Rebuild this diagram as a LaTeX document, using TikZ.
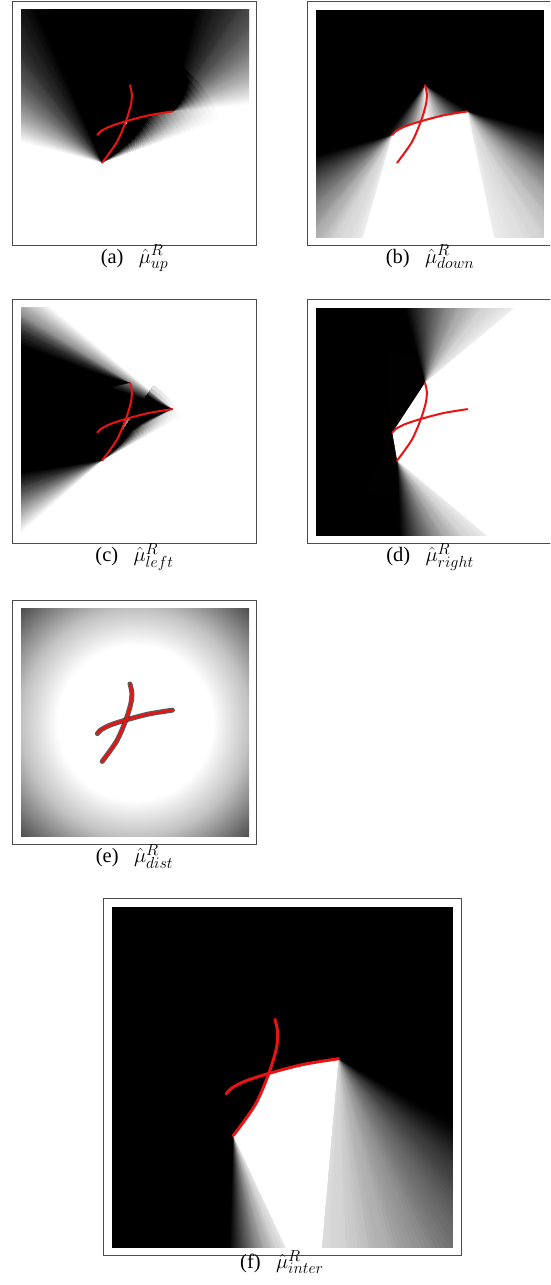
\RequirePackage{fix-cm}
\documentclass[tikz,border=0pt]{standalone}
\usepackage{fontspec}
\setmainfont{Liberation Serif}
\usetikzlibrary{calc}
\DeclareMathSizes{20.5}{20.5}{16}{12}

\definecolor{strokered}{RGB}{234,18,18}
\pgfdeclareradialshading{distfield}{\pgfpoint{0bp}{0bp}}{%
  color(0bp)=(white); color(17bp)=(white); color(25bp)=(black!24);
  color(35.4bp)=(black!70); color(50bp)=(black!70)}

% wedges round an apex: colour, apex, angle (full), angle (gone), opacity, radius
\newcommand{\fansteps}{60}
\newcommand{\fieldfan}[6]{%
  \pgfmathtruncatemacro{\fn}{\fansteps-1}%
  \foreach \k in {0,...,\fn}{%
    \pgfmathsetmacro{\fb}{#3+(#4-#3)*(\k+1)/\fansteps}%
    \pgfmathsetmacro{\fo}{1-(1-#5*(1-min(1,(\k+0.5)/\fansteps)^1.3))/(1-#5*(1-min(1,(\k+1.5)/\fansteps)^1.3))}%
    \fill[#1, opacity=\fo] (#2) -- +(#3:#6) arc[start angle=#3, end angle=\fb, radius=#6] -- cycle;
  }}
% the same in rings, so that it also fades with the distance
\newcommand{\softfan}[6]{%
  \begingroup\renewcommand{\fansteps}{30}%
  \pgfmathsetmacro{\sop}{1-(1-#5)^(1/24)}%
  \foreach \s in {1,...,24}{%
    \pgfmathsetmacro{\sr}{#6*\s/24}%
    \fieldfan{#1}{#2}{#3}{#4}{\sop}{\sr}}%
  \endgroup}

% end points of the two strokes, in the unit square of a panel
\newcommand{\strokeends}{%
  \coordinate (A) at (0.356,0.33);
  \coordinate (X) at (0.46,0.512);
  \coordinate (T) at (0.478,0.67);
  \coordinate (L) at (0.335,0.452);
  \coordinate (R) at (0.664,0.555);}
\newcommand{\drawstrokes}[1]{%
  \draw[#1] plot[smooth] coordinates {(A) (0.42,0.42) (X) (0.482,0.585) (0.486,0.632) (T)};
  \draw[#1] plot[smooth] coordinates {(L) (0.35,0.468) (0.39,0.489) (X) (0.56,0.538) (R)};}

\begin{document}
\begin{tikzpicture}[x=1pt, y=1pt,
    panelframe/.style={draw=black!70, line width=0.9pt},
    subcap/.style={font=\fontsize{20.5}{24}\selectfont, inner sep=0pt, anchor=base},
    redline/.style={strokered, line width=2pt, line cap=round, line join=round},
    darkline/.style={black!85, line width=5pt, line cap=round, line join=round, opacity=0.75}]
  \useasboundingbox (0,0) rectangle (550,1285);
  \clip (0,0) rectangle (550,1285);

  % (a) up
  \begin{scope}[shift={(21,1047)}, x=228pt, y=228pt]
    \clip (0,0) rectangle (1,1);
    \fill[white] (0,0) rectangle (1,1);
    \strokeends
    \fill[black] (A) -- ($(A)+(108:2)$) -- ($(R)+(85:2)$) -- (R) -- (0.56,0.538) -- (X) -- (0.42,0.42) -- cycle;
    \fieldfan{black}{A}{106}{166}{1}{2}
    \fieldfan{black}{R}{87}{5}{1}{2}
    \softfan{black}{A}{58}{20}{0.95}{0.55}
    \drawstrokes{redline}
  \end{scope}

  % (b) down
  \begin{scope}[shift={(316,1047)}, x=228pt, y=228pt]
    \clip (0,0) rectangle (1,1);
    \fill[black] (0,0) rectangle (1,1);
    \strokeends
    \fill[white] (L) -- ($(L)+(254:2)$) -- ($(R)+(282:2)$) -- (R) -- (0.56,0.538) -- (X) -- (0.39,0.489) -- (0.35,0.468) -- cycle;
    \fieldfan{white}{L}{256}{195}{1}{2}
    \fieldfan{white}{R}{280}{345}{1}{2}
    \fieldfan{white}{T}{272}{232}{1}{2}
    \fieldfan{white}{T}{272}{330}{1}{2}
    \drawstrokes{redline}
  \end{scope}

  % (c) left
  \begin{scope}[shift={(21,749.3)}, x=228pt, y=228pt]
    \clip (0,0) rectangle (1,1);
    \fill[white] (0,0) rectangle (1,1);
    \strokeends
    \fill[black] ($(T)+(170:2)$) -- ($(A)+(186:2)$) -- (A) -- (0.42,0.42) -- (X) -- (0.56,0.538) -- (R) -- ($(R)+(162:0.3)$) -- (T) -- cycle;
    \fieldfan{black}{T}{172}{148}{1}{2}
    \fieldfan{black}{A}{184}{222}{1}{2}
    \fieldfan{black}{R}{164}{140}{1}{2}
    \softfan{black}{R}{188}{210}{0.7}{0.4}
    \softfan{black}{A}{56}{28}{0.9}{0.4}
    \drawstrokes{redline}
  \end{scope}

  % (d) right
  \begin{scope}[shift={(316,749.3)}, x=228pt, y=228pt]
    \clip (0,0) rectangle (1,1);
    \fill[black] (0,0) rectangle (1,1);
    \strokeends
    \fill[white] (T) -- ($(T)+(40:2)$) -- ($(A)+(320:2)$) -- (A) -- (L) -- cycle;
    \fieldfan{white}{T}{38}{105}{1}{2}
    \fieldfan{white}{A}{322}{272}{1}{2}
    \softfan{white}{L}{55}{95}{0.97}{0.35}
    \softfan{white}{L}{282}{245}{0.97}{0.28}
    \drawstrokes{redline}
  \end{scope}

  % (e) dist
  \begin{scope}[shift={(21,448.3)}, x=228pt, y=228pt]
    \clip (0,0) rectangle (1,1);
    \shade[shading=distfield] (0,0) rectangle (1,1);
    \strokeends
    \drawstrokes{darkline}
    \drawstrokes{redline, line width=2.6pt}
  \end{scope}

  % (f) inter
  \begin{scope}[shift={(111.7,36.7)}, x=341.6pt, y=341.6pt]
    \clip (0,0) rectangle (1,1);
    \fill[black] (0,0) rectangle (1,1);
    \strokeends
    \fill[white] (A) -- (0.42,0.42) -- (X) -- (0.56,0.538) -- (R) -- ($(R)+(265:0.6)$) -- ($(A)+(295:0.4)$) -- cycle;
    \fieldfan{white}{A}{297}{268}{1}{2}
    \fieldfan{white}{R}{262}{330}{0.95}{2}
    \drawstrokes{redline, line width=3pt}
  \end{scope}

  % frames and captions
  \draw[panelframe] (12.7,1039.3) rectangle (256.3,1283.3);
  \draw[panelframe] (307.7,1039.3) rectangle (551.7,1283.3);
  \draw[panelframe] (12.7,742) rectangle (256.3,985.3);
  \draw[panelframe] (307.7,742) rectangle (551.7,985.3);
  \draw[panelframe] (12.7,440.7) rectangle (256.3,684.7);
  \draw[panelframe] (103.3,29.3) rectangle (461,386.7);

  \node[subcap] (capa) at (134.5,1021.7) {(a)\hspace{0.75em}$\hat{\mu}^{R}_{up}$};
  \node[subcap] (capb) at (430,1021.7) {(b)\hspace{0.75em}$\hat{\mu}^{R}_{down}$};
  \node[subcap] (capc) at (134.5,723) {(c)\hspace{0.75em}$\hat{\mu}^{R}_{left}$};
  \node[subcap] (capd) at (430,723) {(d)\hspace{0.75em}$\hat{\mu}^{R}_{right}$};
  \node[subcap] (cape) at (134.5,422) {(e)\hspace{0.75em}$\hat{\mu}^{R}_{dist}$};
  \node[subcap] (capf) at (282,16.5) {(f)\hspace{0.75em}$\hat{\mu}^{R}_{inter}$};
\end{tikzpicture}
\end{document}
